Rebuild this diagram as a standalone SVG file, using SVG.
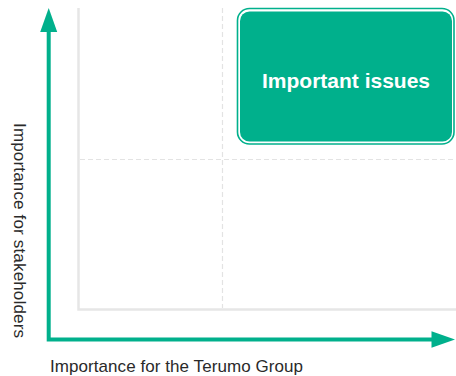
<svg xmlns="http://www.w3.org/2000/svg" width="456" height="376" viewBox="0 0 456 376">
  <style>
    .frame { stroke: #e6e6e6; stroke-width: 2.5; fill: none; }
    .grid { stroke: #e3e3e3; stroke-width: 1.2; stroke-dasharray: 5 3; fill: none; }
    .axis { stroke: #00b08c; stroke-width: 4; fill: none; }
    .lbl { font-family: "Liberation Sans", Arial, sans-serif; font-size: 17px; fill: #2a2a2a; }
    .title { font-family: "Liberation Sans", Arial, sans-serif; font-size: 21px; font-weight: bold; fill: #ffffff; }
  </style>
  <rect width="456" height="376" fill="#ffffff"/>
  <g id="grid">
    <line class="grid" x1="222.5" y1="8" x2="222.5" y2="308"/>
    <line class="grid" x1="80" y1="159.5" x2="456" y2="159.5"/>
    <path class="frame" d="M78.5 8 V309.5 H456"/>
  </g>
  <g id="important-issues">
    <rect x="237.5" y="8.5" width="216.5" height="135.5" rx="12" fill="none" stroke="#00b08c" stroke-width="1.6"/>
    <rect x="240" y="11.5" width="212" height="130" rx="9.5" fill="#00b08c"/>
    <text class="title" x="346" y="87.5" text-anchor="middle">Important issues</text>
  </g>
  <g id="connectors">
    <path class="axis" d="M48.7 30 V339.5 H433"/>
    <polygon points="48.7,8 40.2,32 57.2,32" fill="#00b08c"/>
    <polygon points="455,339.5 431.5,331.2 431.5,347.8" fill="#00b08c"/>
  </g>
  <g id="axis-labels">
    <text class="lbl" x="50" y="372.3" textLength="253">Importance for the Terumo Group</text>
    <text class="lbl" transform="translate(13.5,123) rotate(90)" x="0" y="0" textLength="215">Importance for stakeholders</text>
  </g>
</svg>
